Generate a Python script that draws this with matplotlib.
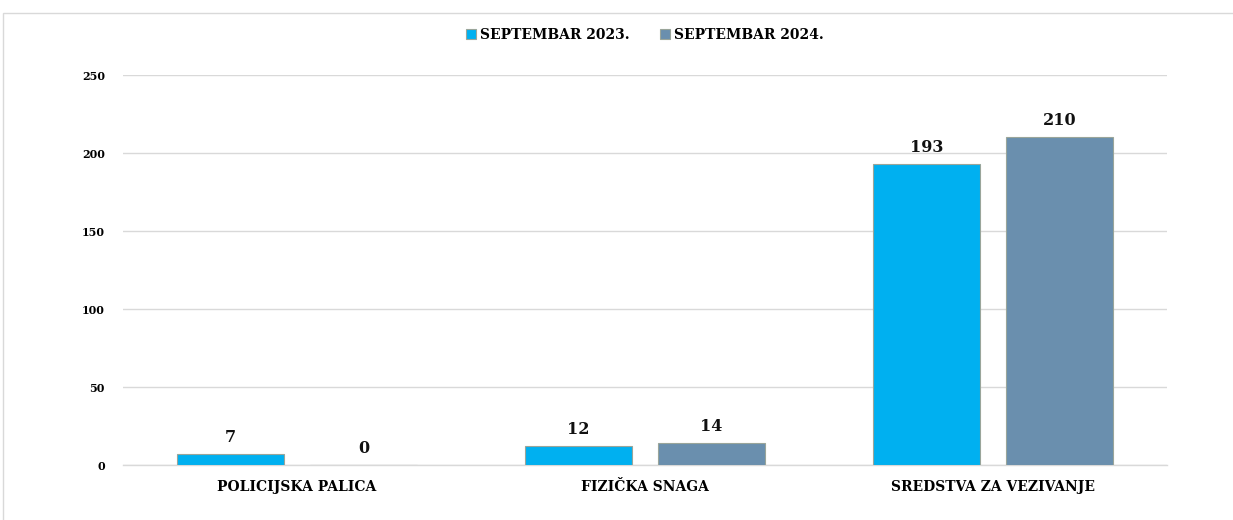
import matplotlib.pyplot as plt
import numpy as np
from matplotlib.patches import Rectangle

categories = ['POLICIJSKA PALICA', 'FIZIČKA SNAGA', 'SREDSTVA ZA VEZIVANJE']
sep_2023 = [7, 12, 193]
sep_2024 = [0, 14, 210]
series_names = ['SEPTEMBAR 2023.', 'SEPTEMBAR 2024.']
colors = ['#00B0F0', '#6A8FAE']
yticks = [0, 50, 100, 150, 200, 250]

plt.rcParams['font.family'] = ['DejaVu Serif']
plt.rcParams['font.weight'] = 'bold'

fig = plt.figure(figsize=(12.33, 5.2), dpi=100)
# outer chart border
fig.patches.append(Rectangle((3 / 1233, -0.1), 1.1, 1 - 13 / 520 + 0.1,
                             transform=fig.transFigure, fill=False,
                             edgecolor='#D9D9D9', linewidth=1))

ax = fig.add_axes([123 / 1233, 1 - 465 / 520, 1044 / 1233, 390 / 520])

x = np.arange(len(categories))
w = 0.31
off = 0.191
b1 = ax.bar(x - off, sep_2023, w, color=colors[0], edgecolor='#9AA59A', linewidth=0.8,
            label=series_names[0], zorder=3)
b2 = ax.bar(x + off, sep_2024, w, color=colors[1], edgecolor='#9AA59A', linewidth=0.8,
            label=series_names[1], zorder=3)

for bars, vals in ((b1, sep_2023), (b2, sep_2024)):
    for b, v in zip(bars, vals):
        ax.annotate(str(v), (b.get_x() + b.get_width() / 2, v), xytext=(0, 6),
                    textcoords='offset points', ha='center', va='bottom',
                    fontsize=11.5, fontweight='bold', color='#111111')

ax.set_xlim(-0.5, 2.5)
ax.set_ylim(0, 250)
ax.set_yticks(yticks)
ax.set_xticks(x)
ax.set_xticklabels(categories, fontsize=10, fontweight='bold')
ax.tick_params(axis='y', labelsize=8, length=0, pad=13)
ax.tick_params(axis='x', length=0, pad=11)
ax.yaxis.grid(True, color='#D9D9D9', linewidth=1, zorder=0)
ax.axhline(0, color='#D9D9D9', linewidth=1, zorder=1, clip_on=False)
for s in ax.spines.values():
    s.set_visible(False)

ax.legend(loc='lower center', bbox_to_anchor=(0.5, 1.07), ncol=2, frameon=False,
          prop={'size': 10, 'weight': 'bold'}, handlelength=0.7, handleheight=0.7,
          handletextpad=0.3, columnspacing=2.2, borderaxespad=0)

fig.savefig('out.png', dpi=100)
